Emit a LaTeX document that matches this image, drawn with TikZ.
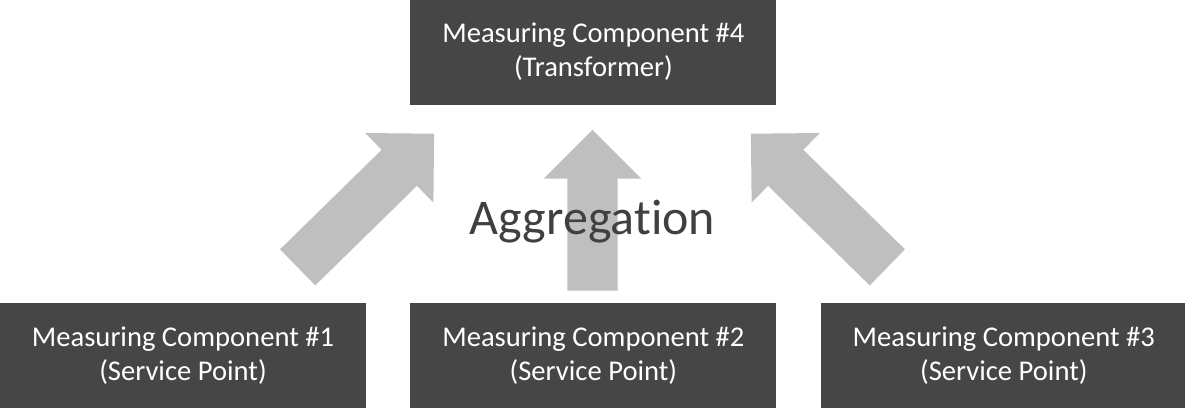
\documentclass[tikz,border=0pt]{standalone}
\usepackage{fontspec}
\setmainfont{Carlito}[Ligatures=NoCommon]
\usetikzlibrary{positioning,shapes.arrows}
\definecolor{boxgray}{HTML}{464646}
\definecolor{arrowgray}{HTML}{BFBFBF}
\definecolor{textgray}{HTML}{404040}

\begin{document}
\begin{tikzpicture}[x=1pt,y=-1pt,
         component/.style = {fill=boxgray,text=white,inner sep=0pt,
         minimum width=366pt,minimum height=105pt,align=center,
         font=\fontsize{28.6}{34}\selectfont},
         flow/.style = {single arrow,fill=arrowgray,draw=none,inner xsep=0pt,
         inner ysep=25pt,single arrow head extend=23.5pt,
         single arrow tip angle=90,anchor=tail}
]
      \useasboundingbox (0,0) rectangle (1185,408);

      % service points
      \node[component] at (183,355.5) (mc1) {Measuring Component \#1\\(Service Point)};
      \node[component,right=44pt of mc1] (mc2) {Measuring Component \#2\\(Service Point)};
      \node[component,right=44pt of mc2] (mc3) {Measuring Component \#3\\(Service Point)};

      % transformer
      \node[component,above=198pt of mc2] (mc4) {Measuring Component \#4\\(Transformer)};

      % aggregation arrows
      \node[flow,minimum height=191pt,rotate=44.4]  at (297.5,267.5) (agg1) {};
      \node[flow,minimum height=160.7pt,rotate=90]  at (592.5,290.7) (agg2) {};
      \node[flow,minimum height=191pt,rotate=135.6] at (887.5,267.5) (agg3) {};

      \node[text=textgray,anchor=base,inner sep=0pt,
      font=\fontsize{50}{60}\selectfont] at (592.5,234.3) (agg) {Aggregat\kern0pt ion};
\end{tikzpicture}
\end{document}
